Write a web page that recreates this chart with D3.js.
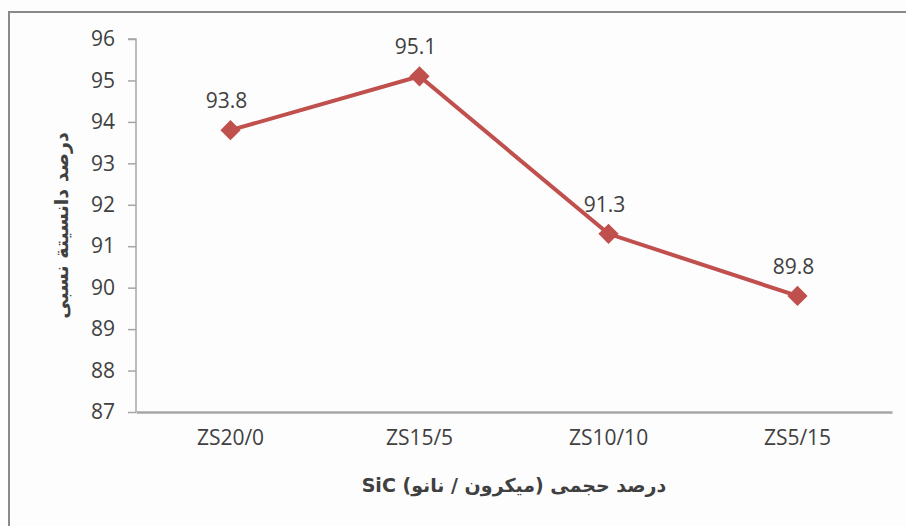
<!DOCTYPE html>
<html>
<head>
<meta charset="utf-8">
<script src="https://cdn.jsdelivr.net/npm/d3@7"></script>
<style>
  body { margin: 0; background: #fff; }
  svg text { fill: #404040; }
</style>
</head>
<body>
<div id="chart"></div>
<script>
// chart values
const categories = ["ZS20/0", "ZS15/5", "ZS10/10", "ZS5/15"];
const density = [93.8, 95.1, 91.3, 89.8];
const yTicks = [87, 88, 89, 90, 91, 92, 93, 94, 95, 96];
const xTitle = "درصد حجمی  (میکرون / نانو) SiC";
const yTitle = "درصد دانسیتة نسبی";

const width = 906, height = 526;
const margin = {top: 39, right: 14, bottom: 114, left: 136};

const svg = d3.select("#chart").append("svg")
    .attr("width", width)
    .attr("height", height);

svg.append("rect")
    .attr("width", width).attr("height", height)
    .attr("fill", "#fdfdfd");

// outer frame (cropped on the right and bottom in the source)
svg.append("path")
    .attr("d", `M9,${height} V12 H${width}`)
    .attr("fill", "none")
    .attr("stroke", "#8a8a8a")
    .attr("stroke-width", 2);

const x = d3.scaleBand()
    .domain(categories)
    .range([margin.left, width - margin.right]);

const y = d3.scaleLinear()
    .domain([87, 96])
    .range([height - margin.bottom, margin.top]);

const numFont = "'Open Sans', 'Liberation Sans', sans-serif";

// y axis
const yAxis = svg.append("g")
    .attr("transform", `translate(${margin.left},0)`)
    .call(d3.axisLeft(y).tickValues(yTicks).tickSize(8).tickPadding(13).tickFormat(d3.format("d")));
yAxis.selectAll("line, path").attr("stroke", "#a6a6a6").attr("stroke-width", 1.5);
yAxis.select("path").attr("d", `M-8,${y(96)}H0V${y(87)}`);
yAxis.selectAll("text")
    .attr("font-family", numFont)
    .attr("font-size", 21)
    .attr("fill", "#383838");

// x axis
const xAxis = svg.append("g")
    .attr("transform", `translate(0,${y(87)})`)
    .call(d3.axisBottom(x).tickSize(0).tickPadding(18));
xAxis.select("path").attr("stroke", "#a6a6a6").attr("stroke-width", 2.5);
xAxis.selectAll("text")
    .attr("font-family", numFont)
    .attr("font-size", 21)
    .attr("fill", "#383838");

// line + markers
const cx = d => x(d.c) + x.bandwidth() / 2;
const pts = categories.map((c, i) => ({c: c, v: density[i]}));

svg.append("path")
    .datum(pts)
    .attr("fill", "none")
    .attr("stroke", "#c0504d")
    .attr("stroke-width", 4)
    .attr("d", d3.line().x(cx).y(d => y(d.v)));

svg.selectAll(".marker")
    .data(pts)
  .join("path")
    .attr("class", "marker")
    .attr("d", d3.symbol(d3.symbolDiamond2, 260))
    .attr("transform", d => `translate(${cx(d)},${y(d.v)})`)
    .attr("fill", "#c0504d");

svg.selectAll(".label")
    .data(pts)
  .join("text")
    .attr("class", "label")
    .attr("x", d => cx(d) - 4)
    .attr("y", d => y(d.v) - 22)
    .attr("text-anchor", "middle")
    .attr("font-family", numFont)
    .attr("font-size", 21)
    .attr("fill", "#383838")
    .text(d => d.v.toFixed(1));

// axis titles
svg.append("text")
    .attr("x", (margin.left + width - margin.right) / 2)
    .attr("y", 492)
    .attr("text-anchor", "middle")
    .attr("direction", "rtl")
    .attr("font-family", "'DejaVu Sans', sans-serif")
    .attr("font-weight", "bold")
    .attr("font-size", 19)
    .attr("fill", "#111")
    .text(xTitle);

svg.append("text")
    .attr("transform", `translate(68,${(y(87) + y(96)) / 2}) rotate(-90)`)
    .attr("text-anchor", "middle")
    .attr("direction", "rtl")
    .attr("font-family", "'DejaVu Sans', sans-serif")
    .attr("font-weight", "bold")
    .attr("font-size", 19)
    .attr("fill", "#111")
    .text(yTitle);
</script>
</body>
</html>
